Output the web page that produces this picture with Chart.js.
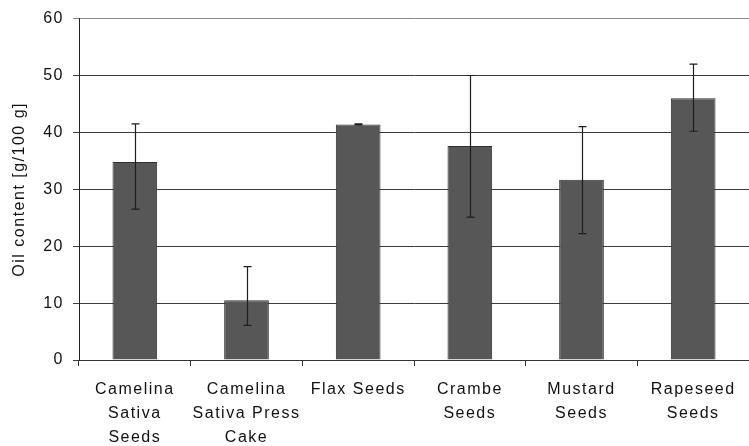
<!DOCTYPE html>
<html>
<head>
<meta charset="utf-8">
<script src="https://cdn.jsdelivr.net/npm/chart.js@4/dist/chart.umd.min.js"></script>
<style>
  html, body { margin: 0; padding: 0; background: #fff; }
  #wrap { width: 749px; height: 446px; }
</style>
</head>
<body>
<div id="wrap"><canvas id="c" width="749" height="446"></canvas></div>
<script>
// Sample categories (multi-line labels)
const categories = [
  ['Camelina', 'Sativa', 'Seeds'],
  ['Camelina', 'Sativa Press', 'Cake'],
  'Flax Seeds',
  ['Crambe', 'Seeds'],
  ['Mustard', 'Seeds'],
  ['Rapeseed', 'Seeds']
];

// Mean oil content, g/100 g
const oilContent = [34.8, 10.5, 41.4, 37.6, 31.7, 46.0];
// Lower and upper ends of the error bars
const errorLow  = [26.5, 6.1, 41.3, 25.1, 22.2, 40.2];
const errorHigh = [41.5, 16.4, 41.5, 50.0, 41.0, 52.0];

// Y-axis tick values
const yTicks = [0, 10, 20, 30, 40, 50, 60];

const FONT = { family: '"Liberation Sans", Arial, sans-serif', size: 16 };

// Wider letter spacing for all canvas text
const spacingPlugin = {
  id: 'spacing',
  beforeLayout(chart) { chart.ctx.letterSpacing = '1.5px'; },
  beforeDraw(chart) { chart.ctx.letterSpacing = '1.5px'; }
};

// Error bars with caps at both ends
const errorBarPlugin = {
  id: 'errorBars',
  afterDatasetsDraw(chart) {
    const ctx = chart.ctx;
    const y = chart.scales.y;
    const meta = chart.getDatasetMeta(0);
    ctx.save();
    ctx.strokeStyle = '#1e1e1e';
    ctx.lineWidth = 1.2;
    meta.data.forEach((bar, i) => {
      const x = Math.round(bar.x) + 0.5;
      const yLo = y.getPixelForValue(errorLow[i]);
      const yHi = y.getPixelForValue(errorHigh[i]);
      const cap = 4;
      ctx.beginPath();
      ctx.moveTo(x, yLo);
      ctx.lineTo(x, yHi);
      ctx.moveTo(x - cap, yHi);
      ctx.lineTo(x + cap, yHi);
      ctx.moveTo(x - cap, yLo);
      ctx.lineTo(x + cap, yLo);
      ctx.stroke();
    });
    ctx.restore();
  }
};

new Chart(document.getElementById('c'), {
  type: 'bar',
  data: {
    labels: categories,
    datasets: [{
      data: oilContent,
      backgroundColor: '#575757',
      borderColor: '#303030',
      borderWidth: 1,
      barPercentage: 0.4,
      categoryPercentage: 1.0
    }]
  },
  options: {
    responsive: false,
    animation: false,
    devicePixelRatio: 1,
    layout: { padding: { top: 16, right: 0, left: 0, bottom: 0 } },
    plugins: {
      legend: { display: false },
      tooltip: { enabled: false }
    },
    scales: {
      x: {
        offset: true,
        grid: {
          offset: true,
          drawOnChartArea: false,
          drawTicks: true,
          tickLength: 6,
          color: '#333'
        },
        border: { display: true, color: '#333', width: 1 },
        ticks: {
          color: '#111',
          font: { ...FONT, lineHeight: 1.5 },
          padding: 12,
          maxRotation: 0,
          autoSkip: false
        },
        afterFit(scale) { scale.height = 86; }
      },
      y: {
        min: 0,
        max: 60,
        afterBuildTicks(scale) { scale.ticks = yTicks.map(v => ({ value: v })); },
        grid: {
          color: ctx => (ctx.tick && ctx.tick.value === 60) ? '#888' : '#3c3c3c',
          lineWidth: 1,
          drawTicks: true,
          tickLength: 6
        },
        border: { display: true, color: '#222', width: 1 },
        ticks: {
          color: '#111',
          font: FONT,
          padding: 9
        },
        title: {
          display: true,
          text: 'Oil content [g/100 g]',
          color: '#111',
          font: FONT,
          padding: { top: 10, bottom: 0 }
        },
        afterFit(scale) { scale.width = 79; }
      }
    }
  },
  plugins: [spacingPlugin, errorBarPlugin]
});
</script>
</body>
</html>
